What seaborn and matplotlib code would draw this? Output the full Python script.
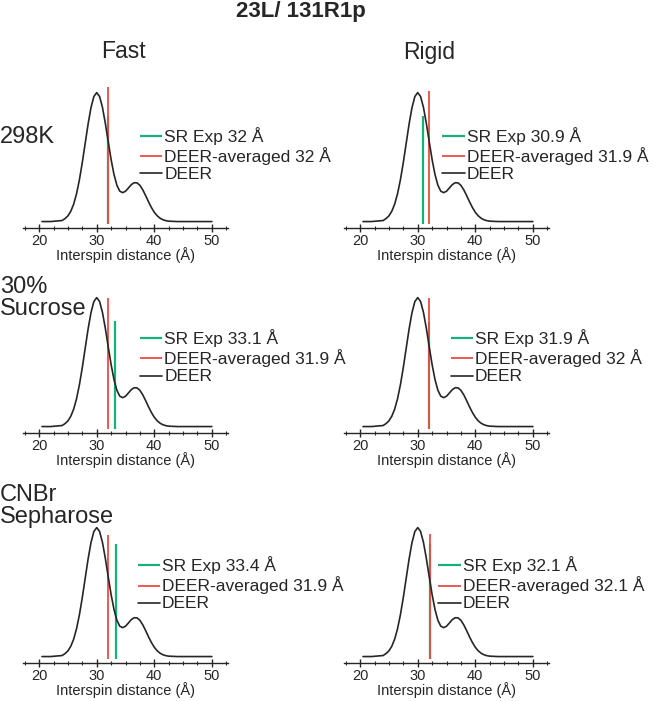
"""
23L/131R1p: DEER distance distributions vs. SR-simulated distances
"""

import numpy as np
import pandas as pd
import matplotlib
matplotlib.use("Agg")
import matplotlib.pyplot as plt
import seaborn as sns

# ---- data ----
# DEER distance distribution (normalised to peak = 1)
deer_r = [20.5, 22.0, 24.0, 24.5, 25.0, 25.5, 26.0, 26.5, 27.0, 27.5, 28.0, 28.5,
          29.0, 29.5, 30.0, 30.5, 31.0, 31.5, 32.0, 32.5, 33.0, 33.5, 34.0, 34.5,
          35.0, 35.5, 36.0, 36.5, 37.0, 37.5, 38.0, 38.5, 39.0, 39.5, 40.0, 40.5,
          41.0, 41.5, 42.0, 42.5, 44.0, 46.0, 48.0, 50.0]
deer_p = [0.000, 0.000, 0.008, 0.023, 0.044, 0.080, 0.135, 0.216, 0.325, 0.458, 0.607, 0.755,
          0.882, 0.969, 1.000, 0.970, 0.885, 0.761, 0.619, 0.481, 0.365, 0.282, 0.236, 0.224,
          0.235, 0.260, 0.286, 0.301, 0.300, 0.281, 0.246, 0.201, 0.153, 0.109, 0.072, 0.045,
          0.026, 0.014, 0.007, 0.003, 0.000, 0.000, 0.000, 0.000]

conditions = ["298K", "30%\nSucrose", "CNBr\nSepharose"]
models = ["Fast", "Rigid"]

# one entry per panel, row by row (Fast, Rigid)
sr_exp = [32.0, 30.9, 33.1, 31.9, 33.4, 32.1]
sr_top = [0.82, 0.82, 0.82, 0.81, 0.87, 0.87]
deer_avg = [32.0, 31.9, 31.9, 32.0, 31.9, 32.1]
avg_top = [1.04, 1.01, 1.00, 1.00, 0.94, 0.95]

GREEN = "#16b07a"
RED = "#ee4a44"
BLACK = "#262626"

sns.set_theme(style="white")
plt.rcParams["font.family"] = ["Liberation Sans", "DejaVu Sans"]

W, H = 656, 701
fig = plt.figure(figsize=(W / 100, H / 100), dpi=100)


def px_axes(left, bottom, width, height):
    # pixel box (top-left origin) -> figure fraction
    return fig.add_axes([left / W, 1 - bottom / H, width / W, height / H])


col_left = [23, 344]
row_bottom = [228, 433, 663]
ax_w, ax_h = 205, 147
# legend anchor (axes fraction): start of handle, middle row
leg_pos = [(0.57, 0.50), (0.48, 0.50), (0.57, 0.52), (0.52, 0.52), (0.56, 0.54), (0.46, 0.54)]

for i in range(3):
    for j in range(2):
        k = i * 2 + j
        ax = px_axes(col_left[j], row_bottom[i], ax_w, ax_h)

        ax.vlines(sr_exp[k], -0.02, sr_top[k], color=GREEN, lw=1.6,
                  label=f"SR Exp {sr_exp[k]:g} Å")
        ax.vlines(deer_avg[k], -0.02, avg_top[k], color=RED, lw=1.3,
                  label=f"DEER-averaged {deer_avg[k]:g} Å")
        sns.lineplot(x=deer_r, y=deer_p, ax=ax, color=BLACK, lw=1.2, label="DEER")

        ax.set_xlim(17.2, 52.8)
        ax.set_ylim(-0.05, 1.09)
        ax.set_xticks([20, 30, 40, 50])
        ax.set_xticks(np.arange(17.5, 53, 2.5), minor=True)
        ax.set_yticks([])
        ax.tick_params(axis="x", which="major", direction="inout", length=6, width=1,
                       color=BLACK, labelsize=10.5, pad=1.5, bottom=True)
        ax.tick_params(axis="x", which="minor", direction="inout", length=3.5, width=0.8,
                       color=BLACK, bottom=True)
        for s in ["left", "top", "right"]:
            ax.spines[s].set_visible(False)
        ax.spines["bottom"].set_color(BLACK)
        ax.spines["bottom"].set_linewidth(1)
        ax.set_xlabel("Interspin distance (Å)", fontsize=10.5, labelpad=-1)
        ax.set_ylabel("")
        ax.patch.set_alpha(0)

        ax.legend(loc="center left", bbox_to_anchor=leg_pos[k], frameon=False,
                  fontsize=12.5, handlelength=1.3, handletextpad=0.1, labelspacing=0.12,
                  handleheight=0.5, borderpad=0, borderaxespad=0)

# titles and row labels
fig.text(301 / W, 1 - 12 / H, "23L/ 131R1p", ha="center", va="center",
         fontsize=16, fontweight="bold")
fig.text(123 / W, 1 - 52 / H, models[0], ha="center", va="center", fontsize=16.5)
fig.text(429 / W, 1 - 53 / H, models[1], ha="center", va="center", fontsize=16.5)
row_label_y = [137, 298, 506]
for lab, y in zip(conditions, row_label_y):
    fig.text(0, 1 - y / H, lab, ha="left", va="center", fontsize=17, linespacing=1.05)

fig.savefig("out.png", dpi=100)
